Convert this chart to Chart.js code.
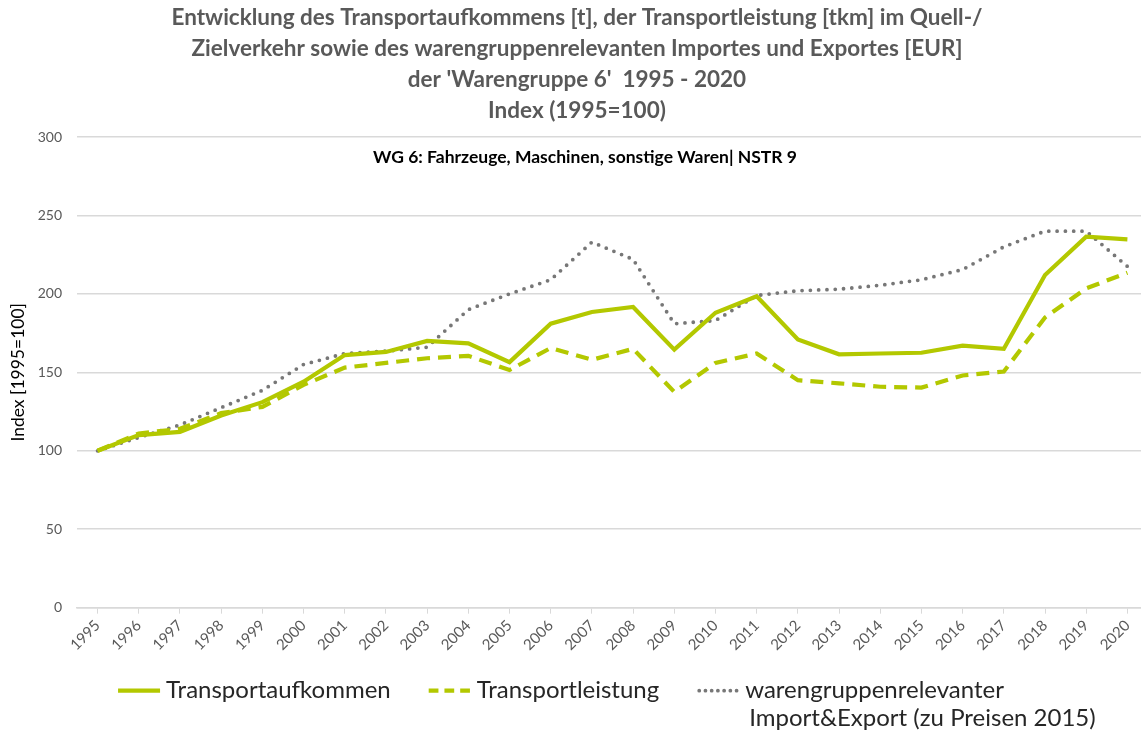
<!DOCTYPE html>
<html>
<head>
<meta charset="utf-8">
<title>WG 6 Index</title>
<script src="https://cdn.jsdelivr.net/npm/chart.js@4.4.1/dist/chart.umd.min.js"></script>
<style>
  html, body { margin: 0; padding: 0; background: #fff; overflow: hidden; }
  #wrap { width: 1148px; height: 736px; }
</style>
</head>
<body>
<div id="wrap"><canvas id="chart"></canvas></div>
<script>
// Data (Index 1995 = 100)
const years = ['1995', '1996', '1997', '1998', '1999', '2000', '2001', '2002', '2003', '2004',
  '2005', '2006', '2007', '2008', '2009', '2010', '2011', '2012', '2013', '2014',
  '2015', '2016', '2017', '2018', '2019', '2020'];
const transportaufkommen = [100, 110, 112, 122.5, 131, 144, 161, 163, 170, 168.5,
  156.5, 181, 188.5, 191.7, 164.5, 188, 198.5, 171, 161.5, 162,
  162.5, 167, 165, 212, 236.5, 234.8];
const transportleistung = [100, 111, 114, 124, 128, 142, 153, 156, 159, 160.5,
  151.5, 165.5, 158, 165, 137.5, 156, 162, 145, 143, 140.8,
  140.3, 148, 150.5, 185, 203.5, 213.5];
const importExport = [100, 108.5, 116.5, 127.5, 138.5, 155, 162, 163.5, 166, 190,
  200, 209, 233, 222, 181, 183, 199, 202, 203, 205.5,
  209, 215.5, 230, 240, 240, 217.5];
const yTicks = [0, 50, 100, 150, 200, 250, 300];

const seriesNames = [['Transportaufkommen'], ['Transportleistung'],
  ['warengruppenrelevanter', 'Import&Export (zu Preisen 2015)']];
const titleLines = [
  'Entwicklung des Transportaufkommens [t], der Transportleistung [tkm] im Quell-/',
  'Zielverkehr sowie des warengruppenrelevanten Importes und Exportes [EUR]',
  "der 'Warengruppe 6'  1995 - 2020",
  'Index (1995=100)'
];
const subTitle = 'WG 6: Fahrzeuge, Maschinen, sonstige Waren| NSTR 9';

const GREEN = '#b3c800';
const GREY = '#777777';
const FONT = "Lato, 'Open Sans', sans-serif";

// in-plot subtitle + hand drawn legend (needs dashed samples and a 2-line entry)
const extraText = {
  id: 'extraText',
  afterDraw(chart) {
    const ctx = chart.ctx;
    const area = chart.chartArea;
    ctx.save();
    ctx.fillStyle = '#000';
    ctx.font = 'bold 17.5px ' + FONT;
    ctx.textAlign = 'center';
    ctx.textBaseline = 'middle';
    ctx.fillText(subTitle, 585, area.top + 20);

    // legend
    const fontSize = 24;
    const sampleW = 42, textGap = 6, itemGap = 38;
    const rowY = area.bottom + 83;
    ctx.font = fontSize + 'px ' + FONT;
    const items = chart.data.datasets.map((ds, i) => ({
      ds, lines: seriesNames[i], w: sampleW + textGap + ctx.measureText(seriesNames[i][0]).width
    }));
    const total = items.reduce((s, it) => s + it.w, 0) + itemGap * (items.length - 1);
    let x = 561 - total / 2;
    items.forEach(it => {
      ctx.save();
      ctx.strokeStyle = it.ds.borderColor;
      ctx.lineWidth = it.ds.borderWidth;
      ctx.lineCap = it.ds.borderCapStyle || 'butt';
      ctx.setLineDash(it.ds.borderDash ? it.ds.borderDash.map(d => d * 0.75) : []);
      ctx.beginPath();
      ctx.moveTo(x + (it.ds.borderCapStyle === 'round' ? 2 : 0), rowY);
      ctx.lineTo(x + sampleW, rowY);
      ctx.stroke();
      ctx.restore();
      ctx.fillStyle = '#262626';
      ctx.textAlign = 'left';
      it.lines.forEach((t, k) => {
        ctx.fillText(t, x + sampleW + textGap + k * 4, rowY + k * 28);
      });
      x += it.w + itemGap;
    });
    ctx.restore();
  }
};

const ctx = document.getElementById('chart').getContext('2d');
new Chart(ctx, {
  type: 'line',
  data: {
    labels: years,
    datasets: [{
      label: seriesNames[0].join(' '),
      data: transportaufkommen,
      borderColor: GREEN,
      backgroundColor: GREEN,
      borderWidth: 4.2,
      pointRadius: 0,
      tension: 0
    }, {
      label: seriesNames[1].join(' '),
      data: transportleistung,
      borderColor: GREEN,
      backgroundColor: GREEN,
      borderWidth: 4.2,
      borderDash: [13, 8],
      pointRadius: 0,
      tension: 0
    }, {
      label: seriesNames[2].join(' '),
      data: importExport,
      borderColor: GREY,
      backgroundColor: GREY,
      borderWidth: 3.8,
      borderDash: [0, 8.3],
      borderCapStyle: 'round',
      pointRadius: 0,
      tension: 0
    }]
  },
  options: {
    responsive: true,
    maintainAspectRatio: false,
    animation: false,
    layout: { padding: { left: 6, right: 0, top: 2, bottom: 79 } },
    plugins: {
      title: {
        display: true,
        text: titleLines,
        color: '#595959',
        font: { family: FONT, size: 22.5, weight: 'bold', lineHeight: 1.378 },
        padding: { top: 0, bottom: 11 }
      },
      legend: { display: false },
      tooltip: { enabled: false }
    },
    scales: {
      x: {
        offset: true,
        grid: { drawOnChartArea: false, drawTicks: true, tickLength: 6, color: '#d9d9d9' },
        border: { color: '#d9d9d9', width: 1.5 },
        ticks: {
          color: '#595959',
          font: { family: FONT, size: 15 },
          minRotation: 45,
          maxRotation: 45,
          autoSkip: false
        }
      },
      y: {
        min: 0,
        max: 300,
        afterBuildTicks: (axis) => { axis.ticks = yTicks.map(v => ({ value: v })); },
        afterFit: (axis) => { axis.width = 71; },
        grid: { color: '#d9d9d9', lineWidth: 1.5, drawTicks: false },
        border: { display: false },
        ticks: {
          color: '#595959',
          font: { family: FONT, size: 14 },
          padding: 15
        },
        title: {
          display: true,
          text: 'Index [1995=100]',
          color: '#000',
          font: { family: FONT, size: 17.5 },
          padding: { top: 2, bottom: 0 }
        }
      }
    }
  },
  plugins: [extraText]
});
</script>
</body>
</html>
